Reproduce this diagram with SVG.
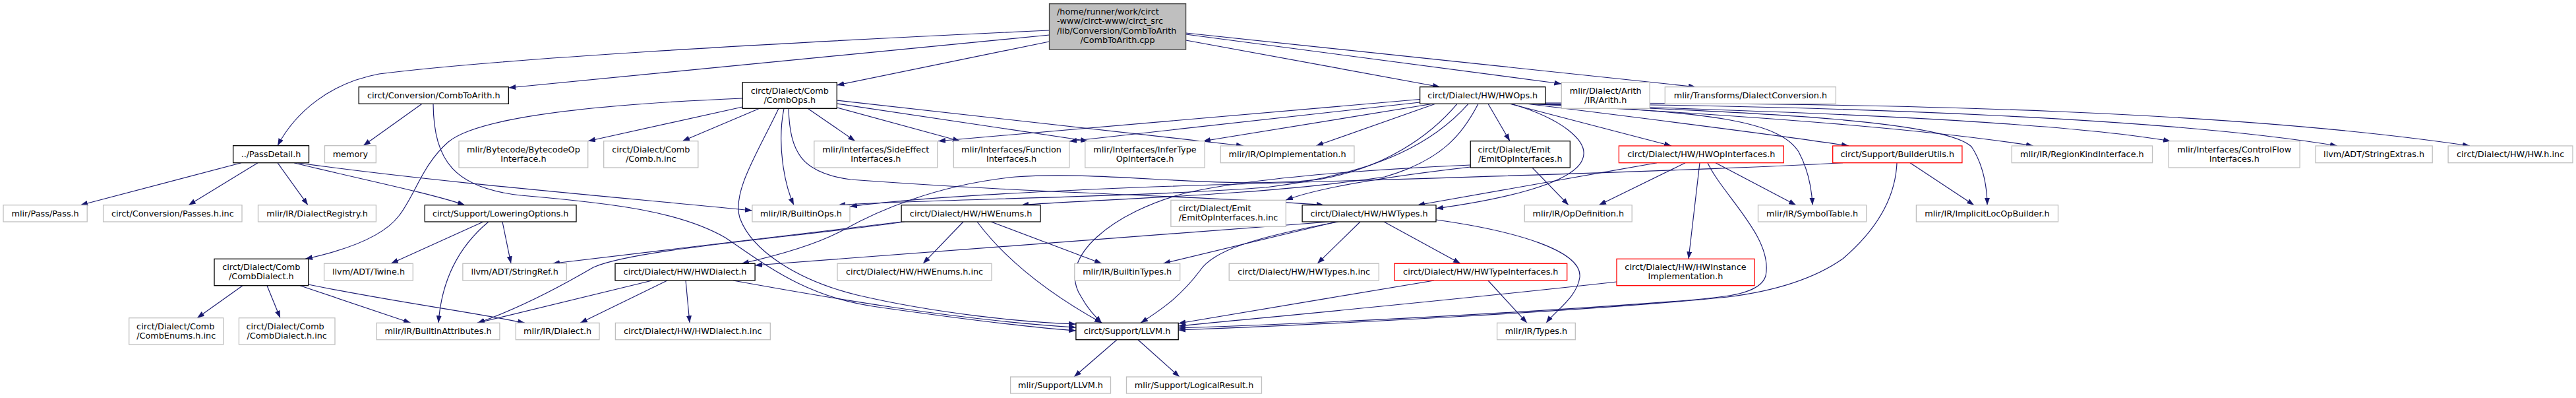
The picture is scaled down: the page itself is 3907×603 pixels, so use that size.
<svg xmlns="http://www.w3.org/2000/svg" width="3907" height="603" viewBox="0 0 3907 603">
<defs>
<marker id="a" viewBox="0 0 11 8" refX="11" refY="4" markerWidth="11" markerHeight="8" markerUnits="userSpaceOnUse" orient="auto"><path d="M0,0 L11,4 L0,8 z" fill="#191970"/></marker>
<style>
.e path{fill:none;stroke:#191970;stroke-width:1.15;marker-end:url(#a)}
.n rect{fill:#fff;stroke-width:1.3}
.g rect{stroke:#bfbfbf}
.k rect{stroke:#000}
.r rect{stroke:#ff0000}
.t rect{fill:#bfbfbf;stroke:#404040}
text{font-family:"DejaVu Sans",sans-serif;font-size:12.8px;fill:#000;text-anchor:middle}
text.l{text-anchor:start}
</style>
</defs>
<rect x="0" y="0" width="3907" height="603" fill="#fff"/>
<g id="connectors" class="e">
<path d="M1591.5,46 C1150,66 750,90 575,112 C500,126 448,170 421,220.7"/>
<path d="M1591.5,53 L771.3,133"/>
<path d="M1591.5,63 L1269.3,129"/>
<path d="M1798.6,61 L2184,131.7"/>
<path d="M1798.6,52 L2368.3,127"/>
<path d="M1798.6,50 L2572,131.7"/>
<path d="M366,246.7 L122,310.7"/>
<path d="M391,246.7 L286,310.7"/>
<path d="M421,246.7 L467,310.7"/>
<path d="M446,246.7 C540,270 650,292 705,310.7"/>
<path d="M452,246.7 C650,275 950,300 1140.9,319"/>
<path d="M640,157.3 L551,220.7"/>
<path d="M657,157.3 C658,245 690,285 790,296 C930,308 1030,320 1100,360 C1160,400 1220,450 1330,465 C1450,482 1560,496 1631.9,501"/>
<path d="M1126.2,149 C860,160 720,182 680,215 C640,250 630,295 605,327 C580,360 520,380 463,392.3"/>
<path d="M1126.2,162 L892,213.7"/>
<path d="M1152,164.3 L1035,213.7"/>
<path d="M1225,164.3 L1297,213.7"/>
<path d="M1269.3,163 L1456,213.7"/>
<path d="M1269.3,157 L1650,213.7"/>
<path d="M1269.3,152 L1886,221"/>
<path d="M1189,164.3 C1178,220 1190,280 1204,310.7"/>
<path d="M1181,164.3 C1150,230 1110,290 1122,330 C1140,380 1210,425 1300,447 C1420,475 1550,488 1631.9,491"/>
<path d="M1196,164.3 C1198,230 1215,262 1290,272 C1550,292 1850,298 2008,310.7"/>
<path d="M2153.6,150.5 L1423,213.7"/>
<path d="M2153.6,155 L1622,214"/>
<path d="M2173,157.3 L1825,213.7"/>
<path d="M2177,157.3 L1996,221"/>
<path d="M2210,157.3 C2170,205 2100,255 2000,272 C1850,288 1680,258 1540,268 C1420,280 1330,320 1280,348 C1240,370 1180,387 1125,399.3"/>
<path d="M2227,157.3 C2180,210 2100,262 1920,284 C1700,300 1400,302 1271,310.7"/>
<path d="M2242,157.3 C2220,200 2190,242 2100,268 C1900,298 1650,302 1549,310.7"/>
<path d="M2257,157.3 L2290,213.7"/>
<path d="M2290,157.3 L2535,221"/>
<path d="M2292,157.3 C2370,180 2412,215 2400,242 C2385,278 2280,302 2178,316"/>
<path d="M2316,157.3 C2500,180 2700,205 2804,221"/>
<path d="M2320,157.3 C2600,172 2900,192 3084,221"/>
<path d="M2322,157.3 C2700,168 3100,182 3292,213.7"/>
<path d="M2324,157 C2800,160 3300,180 3545,221"/>
<path d="M2326,156 C2900,155 3400,170 3746,221"/>
<path d="M2314,157.3 C2600,168 2700,185 2728,230 C2744,260 2748,290 2749,310.7"/>
<path d="M2318,157.3 C2700,170 2950,185 2990,222 C3010,252 3014,290 3014,310.7"/>
<path d="M2513,246.7 L2150,310.7"/>
<path d="M2556,246.7 L2425,310.7"/>
<path d="M2578,246.7 L2561,392.3"/>
<path d="M2590,246.7 C2612,295 2690,360 2678,418 C2670,445 2620,450 2560,455 C2300,475 2000,490 1787.2,497"/>
<path d="M2602,246.7 L2724,310.7"/>
<path d="M2795,246.7 C2500,262 2050,273 1750,283 C1520,292 1360,303 1289,313"/>
<path d="M2877,246.7 C2875,295 2850,345 2795,392 C2755,420 2700,440 2620,450 C2400,472 2000,492 1787.2,500"/>
<path d="M2897,246.7 L2994,310.7"/>
<path d="M2324,254 L2379,310.7"/>
<path d="M2230.2,250 C2050,258 1900,270 1800,292 C1690,320 1600,390 1640,450 C1650,468 1660,478 1671,489.3"/>
<path d="M2230.2,253 C2100,268 2000,284 1950,303.3"/>
<path d="M1368,336 L838,399.3"/>
<path d="M1372,336 C1200,360 960,378 900,405 C840,440 780,470 724,489.3"/>
<path d="M1461,336 L1400,399.3"/>
<path d="M1482,336 C1530,400 1600,450 1671,489.3"/>
<path d="M1503,336 L1671,399.3"/>
<path d="M2017,336 L1145.1,402"/>
<path d="M2027,336 L1764,399.3"/>
<path d="M2030,336 C1900,360 1840,380 1820,410 C1790,450 1760,470 1730,489.3"/>
<path d="M2063,336 L1998,399.3"/>
<path d="M2099,336 L2215,399.3"/>
<path d="M2178,333 C2300,350 2400,380 2396,420 C2392,450 2360,470 2345,489.3"/>
<path d="M2175,425 C2050,445 1900,472 1787.2,490"/>
<path d="M2257,425 L2316,489.3"/>
<path d="M2452,427 C2200,455 1950,478 1787.2,494"/>
<path d="M989,425 L724,489.3"/>
<path d="M1012,425 L880,489.3"/>
<path d="M1040,425 L1046,489.3"/>
<path d="M1112,425 C1250,450 1450,485 1631.9,496"/>
<path d="M368,432.7 L299,481.7"/>
<path d="M405,432.7 L425,481.7"/>
<path d="M455,432.7 L623,489.3"/>
<path d="M467.6,431 C600,458 700,470 796,489.3"/>
<path d="M733,336 L593,399.3"/>
<path d="M741,336 C700,370 670,420 665,489.3"/>
<path d="M762,336 L775,399.3"/>
<path d="M1694,514.7 L1629,571"/>
<path d="M1726,514.7 L1789,571"/>
</g>
<g id="n1" class="n t"><rect x="1591.5" y="5.7" width="207.1" height="69.3"/><text class="l" x="1603" y="21.7">/home/runner/work/circt</text><text class="l" x="1603" y="36.2">-www/circt-www/circt_src</text><text class="l" x="1603" y="50.7">/lib/Conversion/CombToArith</text><text x="1695" y="65.2">/CombToArith.cpp</text></g>
<g id="n2" class="n k"><rect x="353.6" y="220.7" width="114.9" height="26"/><text x="411" y="237.7">../PassDetail.h</text></g>
<g id="n3" class="n k"><rect x="544.2" y="131.7" width="227.1" height="25.6"/><text x="657.8" y="148.7">circt/Conversion/CombToArith.h</text></g>
<g id="n4" class="n g"><rect x="492.5" y="220.7" width="77.8" height="26"/><text x="531.4" y="237.7">memory</text></g>
<g id="n5" class="n k"><rect x="1126.2" y="124.7" width="143.1" height="39.6"/><text x="1197.8" y="141.7">circt/Dialect/Comb</text><text x="1197.8" y="155.7">/CombOps.h</text></g>
<g id="n6" class="n k"><rect x="2153.6" y="131.7" width="190.3" height="25.6"/><text x="2248.8" y="148.7">circt/Dialect/HW/HWOps.h</text></g>
<g id="n7" class="n g"><rect x="2368.3" y="124.7" width="133.8" height="39.6"/><text x="2435.2" y="141.7">mlir/Dialect/Arith</text><text x="2435.2" y="155.7">/IR/Arith.h</text></g>
<g id="n8" class="n g"><rect x="2525.3" y="131.7" width="259.1" height="25.6"/><text x="2654.9" y="148.7">mlir/Transforms/DialectConversion.h</text></g>
<g id="n9" class="n g"><rect x="696" y="213.7" width="195.7" height="40.3"/><text x="793.9" y="230.7">mlir/Bytecode/BytecodeOp</text><text x="793.9" y="244.7">Interface.h</text></g>
<g id="n10" class="n g"><rect x="915.7" y="213.7" width="143.1" height="40.3"/><text x="987.3" y="230.7">circt/Dialect/Comb</text><text x="987.3" y="244.7">/Comb.h.inc</text></g>
<g id="n11" class="n g"><rect x="1234.8" y="213.7" width="187" height="40.3"/><text x="1328.3" y="230.7">mlir/Interfaces/SideEffect</text><text x="1328.3" y="244.7">Interfaces.h</text></g>
<g id="n12" class="n g"><rect x="1446.3" y="213.7" width="175.5" height="40.3"/><text x="1534" y="230.7">mlir/Interfaces/Function</text><text x="1534" y="244.7">Interfaces.h</text></g>
<g id="n13" class="n g"><rect x="1645.8" y="213.7" width="181.4" height="40.3"/><text x="1736.5" y="230.7">mlir/Interfaces/InferType</text><text x="1736.5" y="244.7">OpInterface.h</text></g>
<g id="n14" class="n g"><rect x="1851.2" y="221" width="202.7" height="25.7"/><text x="1952.5" y="238">mlir/IR/OpImplementation.h</text></g>
<g id="n15" class="n k"><rect x="2230.2" y="213.7" width="151.1" height="40.3"/><text class="l" x="2241.5" y="230.7">circt/Dialect/Emit</text><text x="2305.8" y="244.7">/EmitOpInterfaces.h</text></g>
<g id="n16" class="n r"><rect x="2455.4" y="221" width="249.8" height="25.7"/><text x="2580.3" y="238">circt/Dialect/HW/HWOpInterfaces.h</text></g>
<g id="n17" class="n r"><rect x="2779.7" y="221" width="196.2" height="25.7"/><text x="2877.8" y="238">circt/Support/BuilderUtils.h</text></g>
<g id="n18" class="n g"><rect x="3051.2" y="221" width="213.3" height="25.7"/><text x="3157.9" y="238">mlir/IR/RegionKindInterface.h</text></g>
<g id="n19" class="n g"><rect x="3289.3" y="213.7" width="198.8" height="40.3"/><text x="3388.7" y="230.7">mlir/Interfaces/ControlFlow</text><text x="3388.7" y="244.7">Interfaces.h</text></g>
<g id="n20" class="n g"><rect x="3512" y="221" width="177.2" height="25.7"/><text x="3600.6" y="238">llvm/ADT/StringExtras.h</text></g>
<g id="n21" class="n g"><rect x="3713.1" y="221" width="188.9" height="25.7"/><text x="3807.6" y="238">circt/Dialect/HW/HW.h.inc</text></g>
<g id="n22" class="n g"><rect x="5" y="310.7" width="127.2" height="25.3"/><text x="68.6" y="327.7">mlir/Pass/Pass.h</text></g>
<g id="n23" class="n g"><rect x="156.6" y="310.7" width="210.4" height="25.3"/><text x="261.8" y="327.7">circt/Conversion/Passes.h.inc</text></g>
<g id="n24" class="n g"><rect x="391.5" y="310.7" width="178.9" height="25.3"/><text x="481" y="327.7">mlir/IR/DialectRegistry.h</text></g>
<g id="n25" class="n k"><rect x="644.3" y="310.7" width="229.7" height="25.3"/><text x="759.2" y="327.7">circt/Support/LoweringOptions.h</text></g>
<g id="n26" class="n g"><rect x="1140.9" y="310.7" width="148.1" height="25.3"/><text x="1215" y="327.7">mlir/IR/BuiltinOps.h</text></g>
<g id="n27" class="n k"><rect x="1367.1" y="310.7" width="210.9" height="25.3"/><text x="1472.6" y="327.7">circt/Dialect/HW/HWEnums.h</text></g>
<g id="n28" class="n g"><rect x="1775.9" y="303.3" width="174.4" height="40"/><text class="l" x="1787.3" y="320.3">circt/Dialect/Emit</text><text x="1863.1" y="334.3">/EmitOpInterfaces.h.inc</text></g>
<g id="n29" class="n k"><rect x="1975.1" y="310.7" width="202.9" height="25.3"/><text x="2076.6" y="327.7">circt/Dialect/HW/HWTypes.h</text></g>
<g id="n30" class="n g"><rect x="2312.3" y="310.7" width="162.9" height="25.3"/><text x="2393.8" y="327.7">mlir/IR/OpDefinition.h</text></g>
<g id="n31" class="n g"><rect x="2666.5" y="310.7" width="164.1" height="25.3"/><text x="2748.6" y="327.7">mlir/IR/SymbolTable.h</text></g>
<g id="n32" class="n g"><rect x="2906.4" y="310.7" width="215.1" height="25.3"/><text x="3014" y="327.7">mlir/IR/ImplicitLocOpBuilder.h</text></g>
<g id="n33" class="n k"><rect x="325" y="392.3" width="142.6" height="40.4"/><text x="396.3" y="409.3">circt/Dialect/Comb</text><text x="396.3" y="423.3">/CombDialect.h</text></g>
<g id="n34" class="n g"><rect x="491.6" y="399.3" width="134.7" height="25.7"/><text x="559" y="416.3">llvm/ADT/Twine.h</text></g>
<g id="n35" class="n g"><rect x="701.9" y="399.3" width="157.4" height="25.7"/><text x="780.6" y="416.3">llvm/ADT/StringRef.h</text></g>
<g id="n36" class="n k"><rect x="933" y="399.3" width="212.1" height="25.7"/><text x="1039" y="416.3">circt/Dialect/HW/HWDialect.h</text></g>
<g id="n37" class="n g"><rect x="1270" y="399.3" width="234" height="25.7"/><text x="1387" y="416.3">circt/Dialect/HW/HWEnums.h.inc</text></g>
<g id="n38" class="n g"><rect x="1629.8" y="399.3" width="159.9" height="25.7"/><text x="1709.7" y="416.3">mlir/IR/BuiltinTypes.h</text></g>
<g id="n39" class="n g"><rect x="1864.2" y="399.3" width="227.1" height="25.7"/><text x="1977.7" y="416.3">circt/Dialect/HW/HWTypes.h.inc</text></g>
<g id="n40" class="n r"><rect x="2114.9" y="399.3" width="261.8" height="25.7"/><text x="2245.8" y="416.3">circt/Dialect/HW/HWTypeInterfaces.h</text></g>
<g id="n41" class="n r"><rect x="2452" y="392.3" width="209" height="40.4"/><text x="2556.5" y="409.3">circt/Dialect/HW/HWInstance</text><text x="2556.5" y="423.3">Implementation.h</text></g>
<g id="n42" class="n g"><rect x="195.7" y="481.7" width="143.1" height="40.3"/><text class="l" x="207.1" y="498.7">circt/Dialect/Comb</text><text x="267.2" y="512.7">/CombEnums.h.inc</text></g>
<g id="n43" class="n g"><rect x="362.4" y="481.7" width="145.6" height="40.3"/><text class="l" x="373.4" y="498.7">circt/Dialect/Comb</text><text x="435.2" y="512.7">/CombDialect.h.inc</text></g>
<g id="n44" class="n g"><rect x="571.2" y="489.3" width="186.7" height="25.4"/><text x="664.5" y="506.3">mlir/IR/BuiltinAttributes.h</text></g>
<g id="n45" class="n g"><rect x="782.3" y="489.3" width="126.7" height="25.4"/><text x="845.6" y="506.3">mlir/IR/Dialect.h</text></g>
<g id="n46" class="n g"><rect x="933.4" y="489.3" width="234.9" height="25.4"/><text x="1050.8" y="506.3">circt/Dialect/HW/HWDialect.h.inc</text></g>
<g id="n47" class="n k"><rect x="1631.9" y="489.3" width="155.3" height="25.4"/><text x="1709.5" y="506.3">circt/Support/LLVM.h</text></g>
<g id="n48" class="n g"><rect x="2270.6" y="489.3" width="118.7" height="25.4"/><text x="2330" y="506.3">mlir/IR/Types.h</text></g>
<g id="n49" class="n g"><rect x="1532.6" y="571" width="151.9" height="25"/><text x="1608.5" y="588">mlir/Support/LLVM.h</text></g>
<g id="n50" class="n g"><rect x="1708.5" y="571" width="205" height="25"/><text x="1811" y="588">mlir/Support/LogicalResult.h</text></g>
</svg>
